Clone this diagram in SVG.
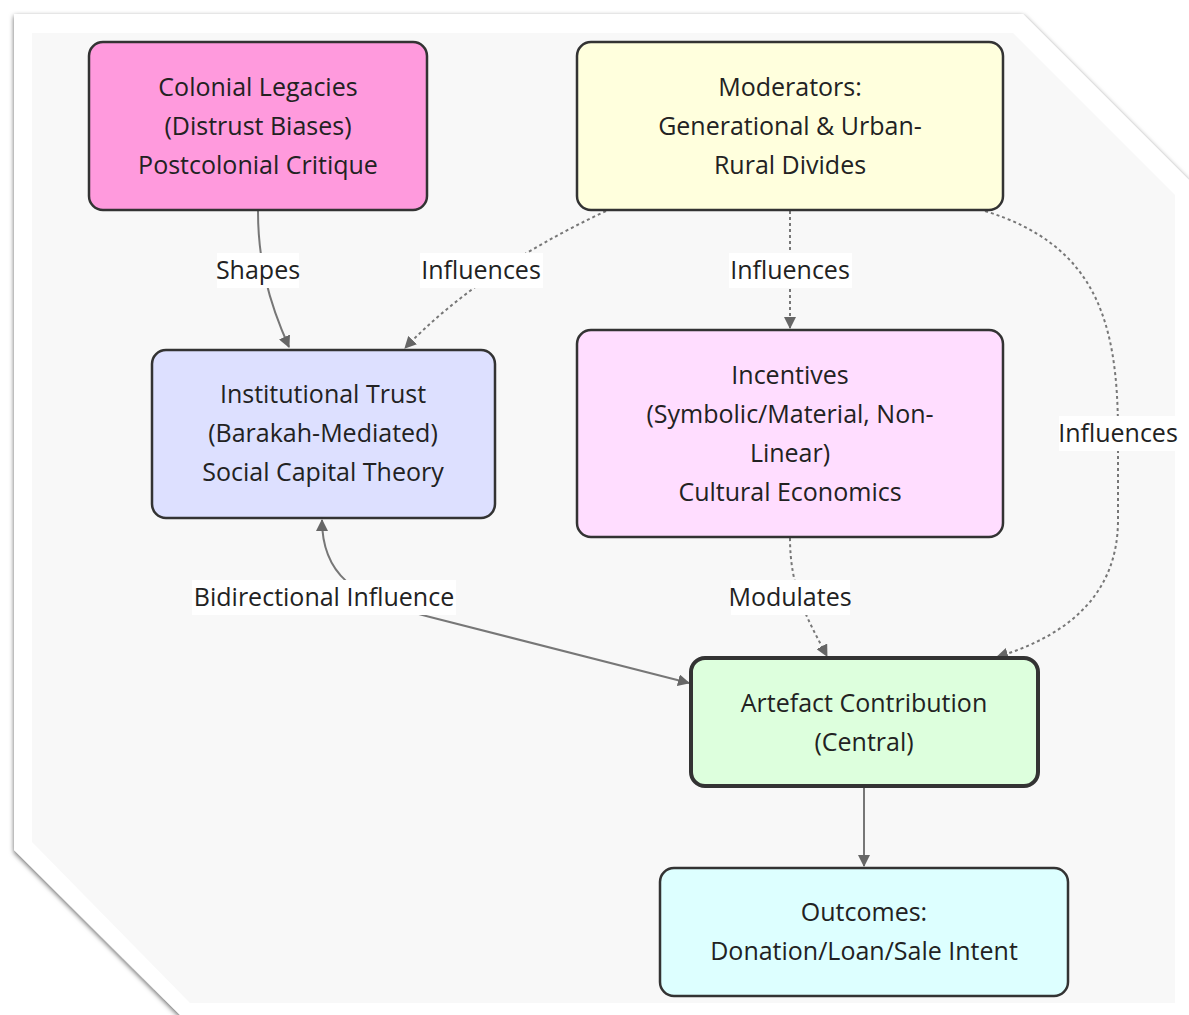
<svg xmlns="http://www.w3.org/2000/svg" width="1189" height="1015" viewBox="0 0 1189 1015">
<defs>
<filter id="sh" x="-5%" y="-5%" width="110%" height="110%">
<feDropShadow dx="0" dy="2" stdDeviation="2.5" flood-color="#000" flood-opacity="0.6"/>
</filter>
<marker id="ah" viewBox="0 0 12 12" refX="11" refY="6" markerWidth="12" markerHeight="12" markerUnits="userSpaceOnUse" orient="auto-start-reverse">
<path d="M0,0 L12,6 L0,12 z" fill="#666"/>
</marker>
<style>
.node rect{stroke:#333;stroke-width:2.5}
.node text{font-family:"Open Sans","DejaVu Sans",sans-serif;font-size:25px;fill:#222;text-anchor:middle}
.edge{fill:none;stroke:#777;stroke-width:2}
.dot{stroke-dasharray:3,3}
.lbl rect{fill:#fff}
.lbl text{font-family:"Open Sans","DejaVu Sans",sans-serif;font-size:25px;fill:#222;text-anchor:middle}
</style>
</defs>
<rect width="1189" height="1015" fill="#fff"/>
<polygon points="14,14 1023,14 1189,180 1189,1015 180,1015 14,850" fill="#fff" filter="url(#sh)"/>
<polygon points="32,33 1013,33 1175,195 1175,1003 190,1003 32,842" fill="#f8f8f8"/>

<g id="connectors">
<path class="edge" d="M258,211 C258,260 268,300 289,347" marker-end="url(#ah)"/>
<path class="edge dot" d="M606,211 Q480,270 405,348" marker-end="url(#ah)"/>
<path class="edge dot" d="M790,211 L790,328" marker-end="url(#ah)"/>
<path class="edge dot" d="M985,211 C1095,245 1118,320 1118,433 L1118,520 C1118,600 1060,638 997,657" marker-end="url(#ah)"/>
<path class="edge dot" d="M790,538 C790,590 808,620 827,656" marker-end="url(#ah)"/>
<path class="edge" d="M322,520 C322,572 350,598 430,617 L689,683" marker-start="url(#ah)" marker-end="url(#ah)"/>
<path class="edge" d="M864,787 L864,866" marker-end="url(#ah)"/>
<g class="lbl">
<rect x="217" y="253" width="82" height="35"/><text x="258" y="279">Shapes</text>
<rect x="420" y="253" width="123" height="35"/><text x="481" y="279">Influences</text>
<rect x="729" y="253" width="123" height="35"/><text x="790" y="279">Influences</text>
<rect x="1059" y="416" width="117" height="35"/><text x="1118" y="442">Influences</text>
<rect x="731" y="580" width="119" height="35"/><text x="790" y="606">Modulates</text>
<rect x="192" y="580" width="264" height="35"/><text x="324" y="606">Bidirectional Influence</text>
</g>
</g>

<g id="colonial" class="node">
<rect x="89" y="42" width="338" height="168" rx="14" fill="#ff9add"/>
<text x="258" y="96">Colonial Legacies</text>
<text x="258" y="135">(Distrust Biases)</text>
<text x="258" y="174">Postcolonial Critique</text>
</g>
<g id="moderators" class="node">
<rect x="577" y="42" width="426" height="168" rx="14" fill="#ffffdd"/>
<text x="790" y="96">Moderators:</text>
<text x="790" y="135">Generational &amp; Urban-</text>
<text x="790" y="174">Rural Divides</text>
</g>
<g id="trust" class="node">
<rect x="152" y="350" width="343" height="168" rx="14" fill="#dde0ff"/>
<text x="323" y="403">Institutional Trust</text>
<text x="323" y="442">(Barakah-Mediated)</text>
<text x="323" y="481">Social Capital Theory</text>
</g>
<g id="incentives" class="node">
<rect x="577" y="330" width="426" height="207" rx="14" fill="#ffddff"/>
<text x="790" y="384">Incentives</text>
<text x="790" y="423">(Symbolic/Material, Non-</text>
<text x="790" y="462">Linear)</text>
<text x="790" y="501">Cultural Economics</text>
</g>
<g id="artefact" class="node">
<rect x="691" y="658" width="347" height="128" rx="14" fill="#ddffdd" style="stroke-width:4"/>
<text x="864" y="712">Artefact Contribution</text>
<text x="864" y="751">(Central)</text>
</g>
<g id="outcomes" class="node">
<rect x="660" y="868" width="408" height="128" rx="14" fill="#ddffff"/>
<text x="864" y="921">Outcomes:</text>
<text x="864" y="960">Donation/Loan/Sale Intent</text>
</g>
</svg>
